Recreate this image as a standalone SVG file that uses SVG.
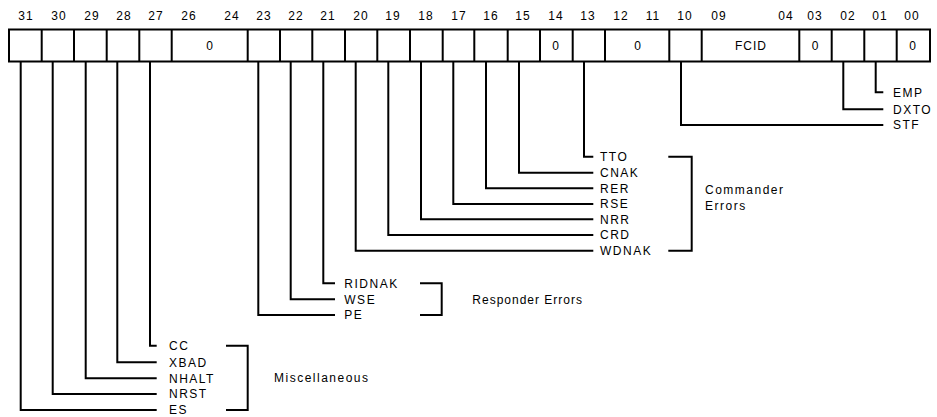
<svg xmlns="http://www.w3.org/2000/svg" width="937" height="417" viewBox="0 0 937 417">
<style>
text{font-family:"Liberation Sans",Arial,sans-serif;font-size:12px;fill:#000;letter-spacing:1.5px}
.n{text-anchor:middle;letter-spacing:1px}
.c{text-anchor:middle;letter-spacing:1px}
.r{letter-spacing:1px}
line,path,rect{stroke:#000;stroke-width:2;fill:none}
</style>
<g id="bitnumbers">
<text class="n" x="26" y="19.5">31</text>
<text class="n" x="59" y="19.5">30</text>
<text class="n" x="92" y="19.5">29</text>
<text class="n" x="124" y="19.5">28</text>
<text class="n" x="156" y="19.5">27</text>
<text class="n" x="189" y="19.5">26</text>
<text class="n" x="232" y="19.5">24</text>
<text class="n" x="264" y="19.5">23</text>
<text class="n" x="296" y="19.5">22</text>
<text class="n" x="328" y="19.5">21</text>
<text class="n" x="361" y="19.5">20</text>
<text class="n" x="393" y="19.5">19</text>
<text class="n" x="426" y="19.5">18</text>
<text class="n" x="459" y="19.5">17</text>
<text class="n" x="491" y="19.5">16</text>
<text class="n" x="523" y="19.5">15</text>
<text class="n" x="556" y="19.5">14</text>
<text class="n" x="588" y="19.5">13</text>
<text class="n" x="621" y="19.5">12</text>
<text class="n" x="653" y="19.5">11</text>
<text class="n" x="685" y="19.5">10</text>
<text class="n" x="719" y="19.5">09</text>
<text class="n" x="786" y="19.5">04</text>
<text class="n" x="815" y="19.5">03</text>
<text class="n" x="848" y="19.5">02</text>
<text class="n" x="880" y="19.5">01</text>
<text class="n" x="912" y="19.5">00</text>
</g>
<g id="register">
<rect x="9" y="29.5" width="921" height="32"/>
<path d="M41.7 29.5V61.5M74 29.5V61.5M106.7 29.5V61.5M139.3 29.5V61.5M171.7 29.5V61.5M247.7 29.5V61.5M280 29.5V61.5M312.3 29.5V61.5M345 29.5V61.5M377.3 29.5V61.5M410 29.5V61.5M442.7 29.5V61.5M474.3 29.5V61.5M507.7 29.5V61.5M540 29.5V61.5M572.7 29.5V61.5M605 29.5V61.5M669.3 29.5V61.5M701.7 29.5V61.5M799.3 29.5V61.5M831.7 29.5V61.5M864.3 29.5V61.5M896.7 29.5V61.5"/>
<text class="c" x="210" y="49.8">0</text>
<text class="c" x="556" y="49.8">0</text>
<text class="c" x="638" y="49.8">0</text>
<text class="c" x="751" y="49.8">FCID</text>
<text class="c" x="815.5" y="49.8">0</text>
<text class="c" x="913" y="49.8">0</text>
</g>
<g id="connectors">
<path d="M875.7 61.5V92.3H883.3"/>
<path d="M843.3 61.5V109.3H883.3"/>
<path d="M681 61.5V125H883.3"/>
<path d="M584 61.5V156.7H593.3"/>
<path d="M519 61.5V172.7H593.3"/>
<path d="M486 61.5V188.3H593.3"/>
<path d="M453.3 61.5V204H593.3"/>
<path d="M421 61.5V219.3H593.3"/>
<path d="M388.3 61.5V235H593.3"/>
<path d="M355.7 61.5V250.7H593.3"/>
<path d="M323.3 61.5V283.3H335"/>
<path d="M290.7 61.5V299.3H335"/>
<path d="M258.3 61.5V315H335"/>
<path d="M150 61.5V345.7H156.7"/>
<path d="M117.3 61.5V362.3H156.7"/>
<path d="M85.7 61.5V378.3H156.7"/>
<path d="M52.7 61.5V394H156.7"/>
<path d="M20.7 61.5V410H156.7"/>
</g>
<g id="labels-misc">
<text x="893" y="96.6">EMP</text>
<text x="893" y="113.6">DXTO</text>
<text x="893" y="129.3">STF</text>
</g>
<g id="group-commander">
<text x="600" y="161">TTO</text>
<text x="600" y="177">CNAK</text>
<text x="600" y="192.6">RER</text>
<text x="600" y="208.3">RSE</text>
<text x="600" y="223.6">NRR</text>
<text x="600" y="239.3">CRD</text>
<text x="600" y="255">WDNAK</text>
<path d="M668.3 156.7H691.7V250.7H668.3"/>
<text x="705" y="193.6">Commander</text>
<text x="705" y="210">Errors</text>
</g>
<g id="group-responder">
<text x="344.3" y="287.6">RIDNAK</text>
<text x="344.3" y="303.6">WSE</text>
<text x="344.3" y="319.3">PE</text>
<path d="M420 283.3H441.7V315H420"/>
<text class="r" x="472.3" y="303.6">Responder Errors</text>
</g>
<g id="group-miscellaneous">
<text x="169" y="350">CC</text>
<text x="169" y="366.6">XBAD</text>
<text x="169" y="382.6">NHALT</text>
<text x="169" y="398.3">NRST</text>
<text x="169" y="414.3">ES</text>
<path d="M226 345.7H247.7V410H226"/>
<text x="274" y="382.3">Miscellaneous</text>
</g>
</svg>
